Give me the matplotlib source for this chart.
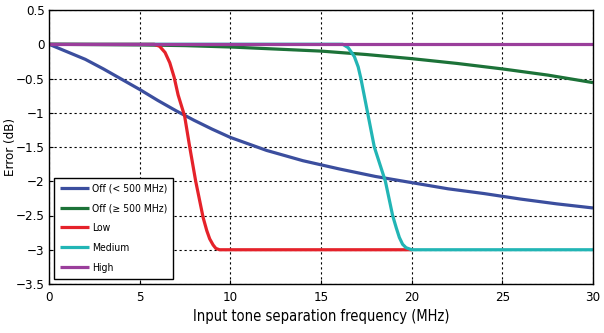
import matplotlib
matplotlib.use("Agg")
import matplotlib.pyplot as plt
import numpy as np

plt.rcParams['font.family'] = ['DejaVu Sans']
plt.rcParams['font.stretch'] = 'condensed'

# Data
off_lt_x = [0, 1, 2, 2.5, 3, 4, 5, 6, 7, 7.5, 8, 9, 10, 12, 14, 15, 16, 18, 20, 22, 24, 25, 26, 28, 30]
off_lt_y = [0, -0.11, -0.22, -0.29, -0.36, -0.51, -0.66, -0.82, -0.97, -1.04, -1.11, -1.24, -1.36,
            -1.55, -1.70, -1.76, -1.82, -1.93, -2.02, -2.11, -2.18, -2.22, -2.26, -2.33, -2.39]
off_ge_x = [0, 5, 7.5, 10, 12.5, 15, 17.5, 20, 22.5, 25, 27.5, 30]
off_ge_y = [0, -0.01, -0.02, -0.04, -0.07, -0.10, -0.15, -0.21, -0.28, -0.36, -0.45, -0.56]
low_x = [0, 5.8, 6.1, 6.4, 6.66, 6.9, 7.12, 7.48, 7.76, 8.09, 8.5, 8.7, 8.86, 9.05, 9.2, 9.4, 20]
low_y = [0, 0, -0.03, -0.12, -0.27, -0.48, -0.74, -1.05, -1.5, -2.0, -2.53, -2.72, -2.84, -2.93, -2.98, -3.0, -3.0]
med_x = [0, 16.2, 16.5, 16.84, 17.05, 17.2, 17.57, 17.94, 18.55, 18.95, 19.15, 19.32, 19.5, 19.69, 20.0, 30]
med_y = [0, 0, -0.05, -0.18, -0.33, -0.5, -1.0, -1.5, -2.0, -2.5, -2.68, -2.82, -2.92, -2.97, -3.0, -3.0]
high_x = [0, 30]
high_y = [0, 0]

labels = ["Off (< 500 MHz)", "Off (\u2265 500 MHz)", "Low", "Medium", "High"]
colors = ["#3b4e9e", "#1c7238", "#e5222a", "#22b5b5", "#9a3e9b"]

fig = plt.figure(figsize=(6.04, 3.33), dpi=100)
ax = fig.add_axes([49/604, 1-284/333, (593-49)/604, (284-10)/333])

series = [(off_lt_x, off_lt_y), (off_ge_x, off_ge_y), (low_x, low_y), (med_x, med_y), (high_x, high_y)]
for (x, y), lab, c in zip(series, labels, colors):
    ax.plot(x, y, color=c, lw=2.3, label=lab, solid_capstyle='butt', solid_joinstyle='round')

ax.set_xlim(0, 30)
ax.set_ylim(-3.5, 0.5)
ax.set_xticks(np.arange(0, 31, 5))
ax.set_yticks(np.arange(-3.5, 0.51, 0.5))
ax.set_yticklabels(["\u22123.5", "\u22123", "\u22122.5", "\u22122", "\u22121.5", "\u22121", "\u22120.5", "0", "0.5"])
ax.grid(True, color='black', linestyle=(0, (2, 2.5)), linewidth=0.8)
ax.tick_params(direction='in', length=3, labelsize=9.5, colors='black', pad=3)
ax.tick_params(axis='x', pad=5)
for s in ax.spines.values():
    s.set_linewidth(1.0)
    s.set_color('black')
ax.set_xlabel("Input tone separation frequency (MHz)", fontsize=10.5, labelpad=4)
ax.set_ylabel("Error (dB)", fontsize=9.5)
ax.yaxis.set_label_coords(-0.0597, 0.5)

leg = ax.legend(loc='lower left', bbox_to_anchor=(0.005, 0.012), fontsize=7.5, fancybox=False,
                framealpha=1, edgecolor='black', handlelength=2.8, handletextpad=0.3,
                labelspacing=0.95, borderpad=0.55, borderaxespad=0.2)
leg.get_frame().set_linewidth(1.0)

fig.savefig("out.png", dpi=100)
